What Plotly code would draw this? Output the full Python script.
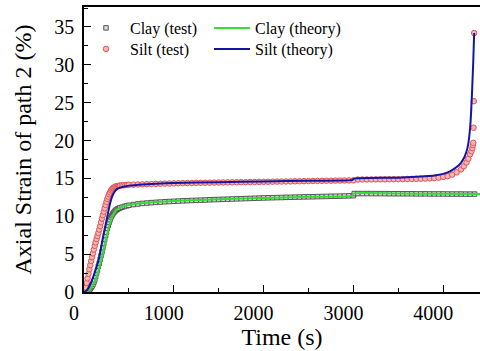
import plotly.graph_objects as go

# ---------------- data ----------------
clay_test_t = [0, 10, 20, 30, 40, 50, 60, 70, 80, 90, 100, 110, 120, 130, 140, 150, 160, 170, 180, 190, 200,
               210, 220, 230, 240, 250, 260, 270, 280, 290, 300, 310, 320, 330, 340, 350, 360, 370, 380, 390,
               400, 425, 450, 475, 500,
               550, 600, 650, 700, 750, 800, 850, 900, 950, 1000, 1050, 1100, 1150, 1200, 1250, 1300, 1350, 1400,
               1450, 1500, 1550, 1600, 1650, 1700, 1750, 1800, 1850, 1900, 1950, 2000, 2050, 2100, 2150, 2200,
               2250, 2300, 2350, 2400, 2450, 2500, 2550, 2600, 2650, 2700, 2750, 2800, 2850, 2900, 2950, 3000,
               3010, 3050, 3100, 3150, 3200, 3250, 3300, 3350, 3400, 3450, 3500, 3550, 3600, 3650, 3700, 3750,
               3800, 3850, 3900, 3950, 4000, 4050, 4100, 4150, 4200, 4250, 4300, 4350]
clay_test_e = [0, 0.0, 0.03, 0.08, 0.13, 0.2, 0.3, 0.43, 0.6, 0.78, 1.0, 1.3, 1.6, 2.05, 2.5, 2.9, 3.4, 3.8, 4.3,
               4.8, 5.3, 5.85, 6.4, 6.95, 7.45, 7.9, 8.4, 8.8, 9.2, 9.55, 9.9, 10.1, 10.3, 10.48, 10.62, 10.75,
               10.85, 10.93, 11.0, 11.05, 11.1, 11.2, 11.3, 11.38, 11.45,
               11.55, 11.63, 11.7, 11.75, 11.8, 11.84, 11.88, 11.92, 11.95, 11.98, 12.01, 12.04,
               12.06, 12.09, 12.11, 12.13, 12.15, 12.18, 12.2, 12.22, 12.24, 12.26, 12.28, 12.3, 12.32, 12.34,
               12.36, 12.38, 12.4, 12.42, 12.44, 12.45, 12.47, 12.48, 12.5, 12.51, 12.53, 12.54, 12.56, 12.57,
               12.58, 12.6, 12.61, 12.62, 12.64, 12.65, 12.66, 12.68, 12.7, 12.72,
               13.0, 13.0, 13.0, 13.0, 13.0, 12.99, 12.99, 12.99, 12.98, 12.98, 12.98, 12.97, 12.97, 12.97, 12.96,
               12.96, 12.96, 12.95, 12.95, 12.95, 12.95, 12.94, 12.94, 12.94, 12.94, 12.93, 12.93, 12.93]

silt_test_t = [0, 10, 20, 30, 40, 50, 60, 70, 80, 90, 100, 110, 120, 130, 140, 150, 160, 170, 180, 190, 200,
               210, 220, 230, 240, 250, 260, 270, 280, 290, 300, 310, 320, 330, 340, 350, 360, 370, 380, 390, 400,
               420, 440, 460, 480, 500, 550, 600, 650, 700, 750, 800, 850, 900, 950, 1000, 1050, 1100, 1150, 1200,
               1250, 1300, 1350, 1400, 1450, 1500, 1550, 1600, 1650, 1700, 1750, 1800, 1850, 1900, 1950, 2000,
               2050, 2100, 2150, 2200, 2250, 2300, 2350, 2400, 2450, 2500, 2550, 2600, 2650, 2700, 2750, 2800,
               2850, 2900, 2950, 3000, 3050, 3100, 3150, 3200, 3250, 3300, 3350, 3400, 3450, 3500, 3550, 3600,
               3650, 3700, 3750, 3800, 3850, 3900, 3950, 4000, 4050, 4100, 4150, 4200, 4230, 4260, 4280, 4300,
               4315, 4325, 4330, 4335, 4338, 4341, 4345]
silt_test_e = [0, 0.25, 0.6, 1.2, 1.8, 2.4, 3.0, 3.55, 4.1, 4.6, 5.1, 5.6, 6.1, 6.55, 7.0, 7.4, 7.8, 8.25, 8.7,
               9.2, 9.7, 10.15, 10.6, 11.05, 11.5, 11.9, 12.3, 12.6, 12.9, 13.15, 13.4, 13.55, 13.7, 13.78, 13.85,
               13.9, 13.95, 13.98, 14.0, 14.03, 14.05,
               14.08, 14.1, 14.12, 14.14, 14.16, 14.18, 14.2, 14.22, 14.24, 14.26, 14.28, 14.3,
               14.32, 14.33, 14.35, 14.36, 14.38, 14.39, 14.4, 14.41, 14.42, 14.43, 14.44, 14.45, 14.46, 14.47,
               14.48, 14.49, 14.5, 14.5, 14.51, 14.52, 14.53, 14.54, 14.55, 14.56, 14.57, 14.58, 14.59, 14.6,
               14.61, 14.62, 14.63, 14.64, 14.65, 14.66, 14.67, 14.68, 14.69, 14.7, 14.71, 14.72, 14.73, 14.74,
               14.75, 14.85, 14.86, 14.86, 14.87, 14.87, 14.88, 14.88, 14.89, 14.9, 14.9, 14.91, 14.92, 14.93,
               14.94, 14.96, 14.98, 15.0, 15.04, 15.1, 15.2, 15.3, 15.5, 15.8, 16.2, 16.6, 17.1, 17.6, 18.2,
               18.6, 19.0, 19.4, 19.7, 21.7, 25.2, 34.2]

clay_theory_t = [0, 50, 100, 150, 200, 250, 300, 330, 360, 400, 450, 500, 600, 700, 800, 1000, 1200, 1500, 2000,
                 2500, 2990, 3000, 3500, 4000, 4410]
clay_theory_e = [0, 0.2, 0.9, 2.4, 4.6, 7.3, 9.5, 10.3, 10.8, 11.1, 11.35, 11.5, 11.68, 11.8, 11.9, 12.02, 12.12,
                 12.25, 12.42, 12.57, 12.72, 13.0, 13.0, 12.97, 12.95]

silt_theory_t = [0, 30, 60, 100, 140, 170, 200, 230, 260, 290, 320, 350, 380, 420, 460, 500, 600, 800, 1000,
                 1500, 2000, 2500, 2990, 3000, 3500, 3800, 3900, 4000, 4050, 4100, 4150, 4200, 4240, 4270, 4290,
                 4305, 4320, 4335, 4345]
silt_theory_e = [0, 0.2, 0.8, 1.9, 3.3, 4.6, 6.5, 8.3, 10.0, 11.7, 12.8, 13.4, 13.7, 13.85, 13.95, 14.05, 14.15,
                 14.3, 14.4, 14.5, 14.6, 14.7, 14.8, 14.95, 15.1, 15.3, 15.4, 15.6, 15.8, 16.1, 16.5, 17.1, 17.9,
                 19.0, 20.5, 22.5, 26.0, 30.5, 34.2]

x_ticks = [0, 1000, 2000, 3000, 4000]
y_ticks = [0, 5, 10, 15, 20, 25, 30, 35]

FONT = "Times New Roman, Liberation Serif, serif"

fig = go.Figure()
fig.add_trace(go.Scatter(
    x=clay_test_t, y=clay_test_e, mode="markers", name="Clay (test)", legend="legend",
    marker=dict(symbol="square", size=4.5, color="#dcdcdc", line=dict(color="#555555", width=1))))
fig.add_trace(go.Scatter(
    x=silt_test_t, y=silt_test_e, mode="markers", name="Silt (test)", legend="legend2",
    marker=dict(symbol="circle", size=5.5, color="#f5b5b5", line=dict(color="#e05555", width=1))))
fig.add_trace(go.Scatter(
    x=clay_theory_t, y=clay_theory_e, mode="lines", name="Clay (theory)", legend="legend3",
    line=dict(color="#33dd33", width=2, shape="spline", smoothing=0.6)))
fig.add_trace(go.Scatter(
    x=silt_theory_t, y=silt_theory_e, mode="lines", name="Silt (theory)", legend="legend4",
    line=dict(color="#1515a5", width=2, shape="spline", smoothing=0.6)))

L, R, T, B = 84, 0, 7, 59
W, H = 480, 351
pw = W - L - R
ph = H - T - B


def leg(px_x, px_y, iw=30):
    return dict(
        x=(px_x - L) / pw, y=1 - (px_y - T) / ph,
        font=dict(family=FONT, size=16, color="black"),
        bgcolor="rgba(0,0,0,0)", borderwidth=0, orientation="v",
        xanchor="left", yanchor="top", tracegroupgap=0, itemwidth=iw,
    )


fig.update_layout(
    width=W, height=H,
    margin=dict(l=L, r=R, t=T, b=B, pad=0, autoexpand=False),
    paper_bgcolor="white", plot_bgcolor="white",
    font=dict(family=FONT, color="black"),
    showlegend=True,
    legend=leg(82, 11, 38),
    legend2=leg(82, 32, 38),
    legend3=leg(209, 11, 36),
    legend4=leg(209, 32, 36),
    xaxis=dict(
        range=[0, 4410], tickvals=x_ticks, ticktext=[str(v) for v in x_ticks],
        ticks="inside", ticklen=7, tickwidth=1.2, tickcolor="black",
        minor=dict(dtick=500, tick0=0, ticks="inside", ticklen=4, tickwidth=1.2, tickcolor="black"),
        showline=True, linecolor="black", linewidth=1.5, mirror=True,
        showgrid=False, zeroline=False, automargin=False,
        tickfont=dict(family=FONT, size=20, color="black"),
        ticklabelshift=-10, ticklabelstandoff=2,
        title=dict(text="Time (s)", font=dict(family=FONT, size=24, color="black"), standoff=0),
    ),
    yaxis=dict(
        range=[0, 37.64], tickvals=y_ticks, ticktext=[str(v) for v in y_ticks],
        ticks="inside", ticklen=7, tickwidth=1.2, tickcolor="black",
        minor=dict(dtick=2.5, tick0=0, ticks="inside", ticklen=4, tickwidth=1.2, tickcolor="black"),
        showline=True, linecolor="black", linewidth=1.5, mirror=False,
        showgrid=False, zeroline=False, automargin=False,
        tickfont=dict(family=FONT, size=20, color="black"),
        ticklabelstandoff=4,
        title=dict(text="Axial Strain of path 2 (%)", font=dict(family=FONT, size=24, color="black"), standoff=16),
    ),
)

fig.write_html("out.html", config={"displayModeBar": False},
               post_script="document.body.style.margin='0px';")
